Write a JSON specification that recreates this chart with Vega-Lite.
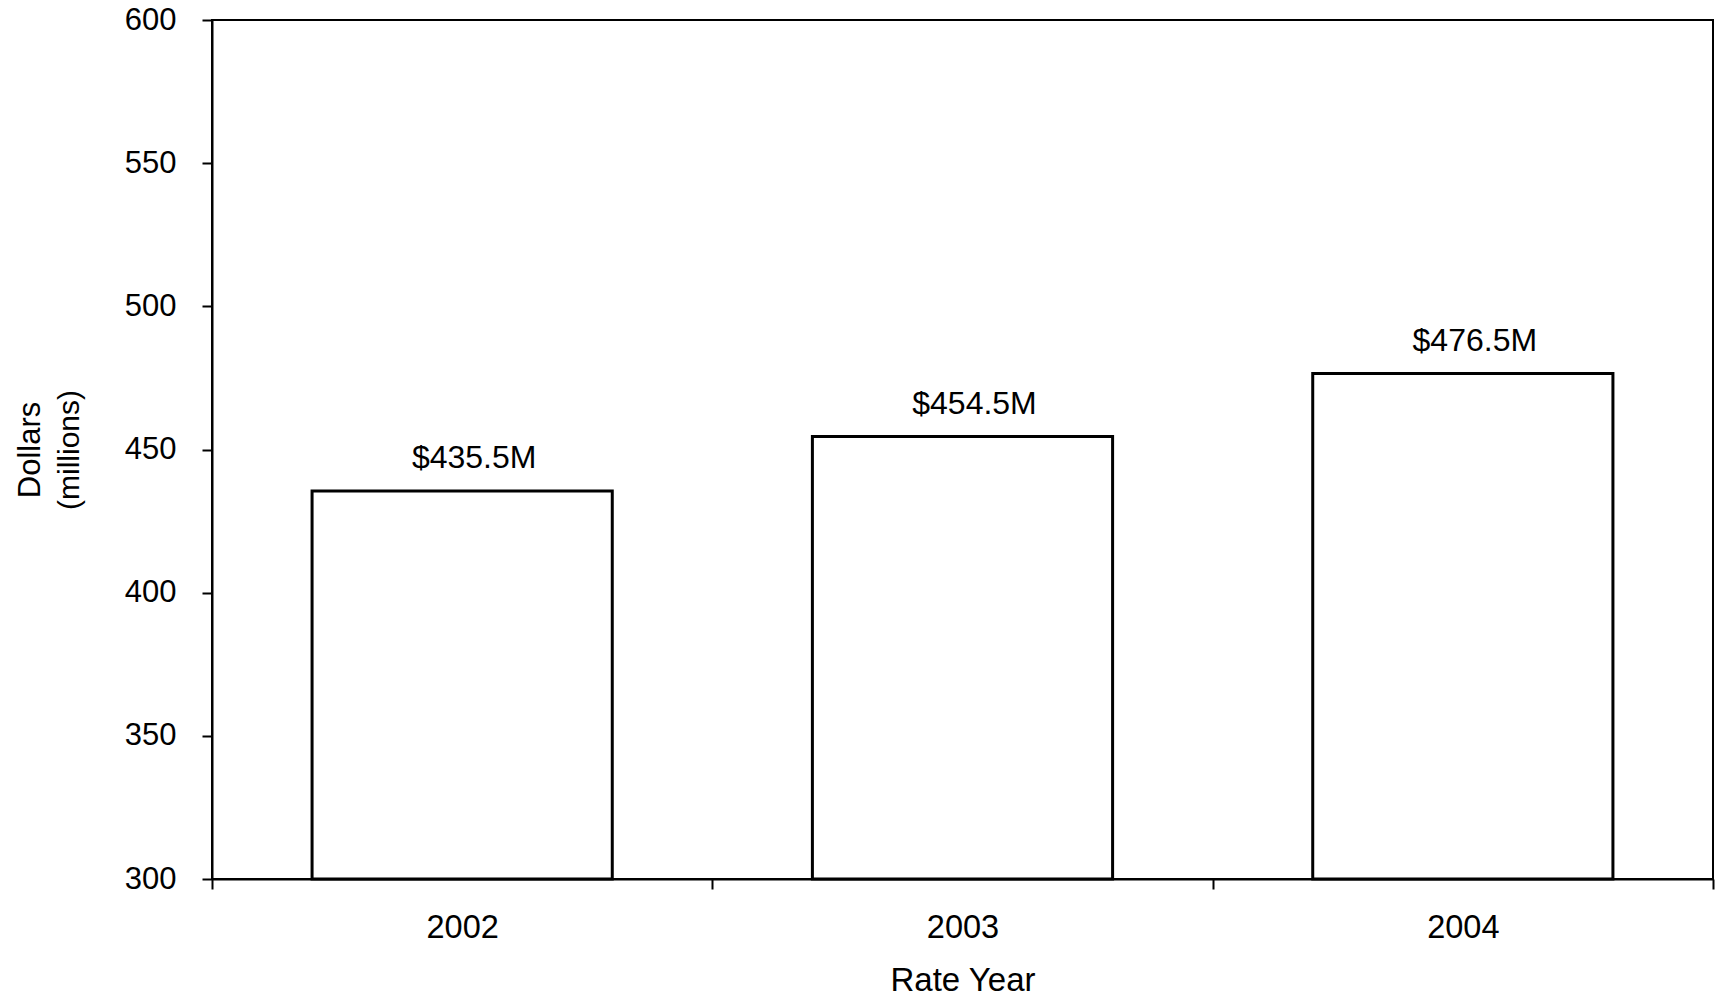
{
  "$schema": "https://vega.github.io/schema/vega-lite/v6.json",
  "width": 1501,
  "height": 859,
  "autosize": "none",
  "padding": {"left": 212, "top": 20, "right": 9, "bottom": 125},
  "background": "white",
  "config": {
    "font": "Liberation Sans",
    "view": {"stroke": "black", "strokeWidth": 2},
    "axis": {
      "domainColor": "black",
      "domainWidth": 2,
      "tickColor": "black",
      "tickWidth": 2,
      "tickSize": 10,
      "grid": false,
      "labelColor": "black",
      "titleColor": "black",
      "labelFontSize": 31,
      "titleFontSize": 31,
      "titleFontWeight": "normal"
    }
  },
  "data": {
    "values": [
      {"year": "2002", "value": 435.5, "label": "$435.5M"},
      {"year": "2003", "value": 454.5, "label": "$454.5M"},
      {"year": "2004", "value": 476.5, "label": "$476.5M"}
    ]
  },
  "encoding": {
    "x": {
      "field": "year",
      "type": "nominal",
      "scale": {"paddingInner": 0, "paddingOuter": 0},
      "axis": {
        "title": "Rate Year",
        "labelAngle": 0,
        "tickBand": "extent",
        "labelFontSize": 32.5,
        "titleFontSize": 33,
        "labelPadding": 22,
        "titlePadding": 21
      }
    }
  },
  "layer": [
    {
      "mark": {"type": "bar", "fill": "white", "stroke": "black", "strokeWidth": 3, "width": {"band": 0.6}},
      "encoding": {
        "y": {
          "field": "value",
          "type": "quantitative",
          "scale": {"domain": [300, 600], "zero": false, "nice": false},
          "axis": {
            "title": "Dollars",
            "values": [300, 350, 400, 450, 500, 550, 600],
            "labelPadding": 26,
            "titlePadding": 78
          }
        },
        "y2": {"datum": 300}
      }
    },
    {
      "mark": {"type": "text", "fontSize": 32, "color": "black", "baseline": "alphabetic", "dy": -23, "dx": 12},
      "encoding": {
        "text": {"field": "label"},
        "y": {
          "field": "value",
          "type": "quantitative",
          "scale": {"domain": [300, 600], "zero": false, "nice": false},
          "axis": {
            "orient": "left",
            "title": "(millions)",
            "titleFontSize": 30,
            "labels": false,
            "ticks": false,
            "domain": false,
            "titlePadding": 128
          }
        }
      }
    }
  ],
  "resolve": {"axis": {"y": "independent"}}
}
